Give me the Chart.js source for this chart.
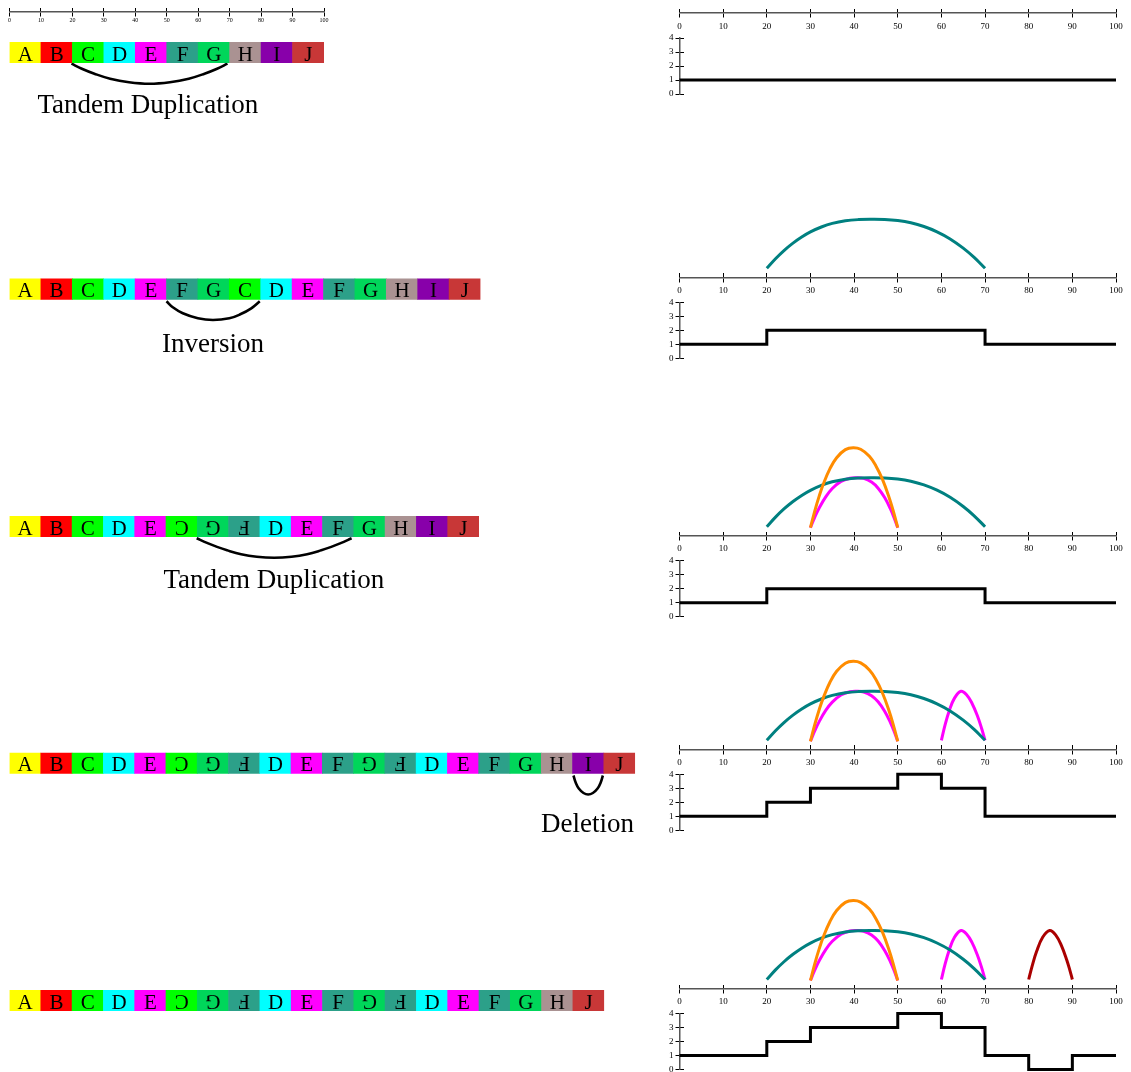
<!DOCTYPE html>
<html>
<head>
<meta charset="utf-8">
<title>Sequential rearrangements and copy number</title>
<script src="https://cdn.jsdelivr.net/npm/chart.js@4.4.1/dist/chart.umd.min.js"></script>
<style>
  html, body { margin: 0; padding: 0; background: #fff; overflow: hidden; width: 1131px; height: 1072px; }
  canvas { position: absolute; display: block; }
</style>
</head>
<body>
<script>
// ---------------------------------------------------------------
// Chromosome segment orders after each rearrangement step.
// Each block covers 10 units of the 0-100 reference coordinate.
// strand: 1 = forward, -1 = inverted
// ---------------------------------------------------------------
const segmentLength = 10;

const row1Order  = ['A','B','C','D','E','F','G','H','I','J'];
const row1Strand = [1,1,1,1,1,1,1,1,1,1];

const row2Order  = ['A','B','C','D','E','F','G','C','D','E','F','G','H','I','J'];
const row2Strand = [1,1,1,1,1,1,1,1,1,1,1,1,1,1,1];

const row3Order  = ['A','B','C','D','E','C','G','F','D','E','F','G','H','I','J'];
const row3Strand = [1,1,1,1,1,-1,-1,-1,1,1,1,1,1,1,1];

const row4Order  = ['A','B','C','D','E','C','G','F','D','E','F','G','F','D','E','F','G','H','I','J'];
const row4Strand = [1,1,1,1,1,-1,-1,-1,1,1,1,-1,-1,1,1,1,1,1,1,1];

const row5Order  = ['A','B','C','D','E','C','G','F','D','E','F','G','F','D','E','F','G','H','J'];
const row5Strand = [1,1,1,1,1,-1,-1,-1,1,1,1,-1,-1,1,1,1,1,1,1];

// Event brackets under the segment rows: [position in row units, depth below the row]
const row1Arc = [[19.7,-1],[23,-6],[27,-11],[32,-16],[38,-19.5],[44.5,-21],[51,-19.5],[57,-16],[62,-11],[66,-6],[69.3,-1]];
const row2Arc = [[50,-2],[52,-8],[55.2,-14],[60,-19],[64.8,-20.7],[70,-19],[73.5,-15],[77,-9],[79.7,-2]];
const row3Arc = [[59.8,-1.6],[63.3,-6.4],[66.3,-10.2],[69.5,-13.6],[74,-17.5],[79,-20],[84.55,-21],[90.1,-20],[95.1,-17.5],[99.6,-13.6],[102.8,-10.2],[105.8,-6.4],[109.3,-1.6]];
const row4Arc = [[180.3,-2],[181,-9],[182,-15],[183.5,-19.5],[185,-21],[186.5,-19.5],[188,-15],[189,-9],[189.7,-2]];

const eventLabels = ['Tandem Duplication', 'Inversion', 'Tandem Duplication', 'Deletion'];

// Rearrangement breakpoint arcs on the reference coordinate: [position, height]
const arcTeal = [[20,9],[22,18.6],[24,27],[26,34.2],[28,40.3],[30,45.4],[32.5,50.3],[35,53.9],[38,56.5],[41,57.7],[43.9,58],
                 [47,57.8],[50,56.7],[53,54.5],[56,50.8],[59,45.5],[62,38.4],[65,29.2],[67.5,19.9],[70,9]];
const arcOrange = [[30,8],[31,24.9],[32,39.6],[33,52.2],[34.5,67.3],[36,78],[38,86.1],[39.8,88],
                   [41.5,86.4],[43.5,79.4],[45,69.8],[46.5,56.3],[48,38.5],[49,24.2],[50,8]];
const arcMagentaA = [[30,8],[31,18.6],[32,27.7],[33.5,38.9],[35,47.2],[37,54.3],[39,57.5],[40.6,58],
                     [42.2,57.3],[44,53.6],[45.5,47.5],[47,38.1],[48.3,27],[49.2,17.6],[50,8]];
const arcMagentaB = [[60,9],[60.8,23.6],[61.8,38.5],[63,51.2],[64.5,58],[65.8,54.3],[67,46.1],[68.2,34],[69.2,21.1],[70,9]];
const arcRed = [[80,9],[80.8,22.7],[81.8,37],[83.2,51.2],[84.8,58],[86.2,53.4],[87.5,42.9],[88.7,28.8],[89.5,17.2],[90,9]];

// Which arcs are present at each step (drawn top-most first)
const panelArcs = [
  [],
  ['teal'],
  ['orange', 'teal', 'magentaA'],
  ['orange', 'teal', 'magentaA', 'magentaB'],
  ['orange', 'teal', 'magentaA', 'magentaB', 'red']
];

// Copy number profiles: breakpoints and the copy count between them
const copyBreaks = [
  [0, 100],
  [0, 20, 70, 100],
  [0, 20, 70, 100],
  [0, 20, 30, 50, 60, 70, 100],
  [0, 20, 30, 50, 60, 70, 80, 90, 100]
];
const copyNumbers = [
  [1],
  [1, 2, 1],
  [1, 2, 1],
  [1, 2, 3, 4, 3, 1],
  [1, 2, 3, 4, 3, 1, 0, 1]
];

const coordTicks = { min: 0, max: 100, step: 10 };
const copyTicks  = { min: 0, max: 4, step: 1 };

// ---------------------------------------------------------------
// Styles
// ---------------------------------------------------------------
const SERIF = "'Liberation Serif', 'Times New Roman', serif";
Chart.defaults.font.family = SERIF;
Chart.defaults.color = '#000';

const segmentColors = {
  A: '#ffff00', B: '#ff0000', C: '#00ff00', D: '#00ffff', E: '#ff00ff',
  F: '#2ca089', G: '#00d65a', H: '#aa9292', I: '#8800aa', J: '#c83737'
};
const arcStyles = {
  teal:     { data: arcTeal,     color: '#008080' },
  orange:   { data: arcOrange,   color: '#ff8c00' },
  magentaA: { data: arcMagentaA, color: '#ff00ff' },
  magentaB: { data: arcMagentaB, color: '#ff00ff' },
  red:      { data: arcRed,      color: '#aa0000' }
};

// ---------------------------------------------------------------
// Helpers
// ---------------------------------------------------------------
function mountCanvas(left, top, width, height) {
  const c = document.createElement('canvas');
  c.width = width; c.height = height;
  c.style.left = left + 'px'; c.style.top = top + 'px';
  c.style.width = width + 'px'; c.style.height = height + 'px';
  document.body.appendChild(c);
  return c;
}

const baseOptions = () => ({
  responsive: false,
  animation: false,
  devicePixelRatio: 1,
  events: [],
  plugins: { legend: { display: false }, tooltip: { enabled: false } }
});

const AXIS_LINE = { display: true, color: '#555', width: 1.5 };

// Labelled half of a ruler axis: axis line, labels and the outer half of each tick.
function rulerAxis(axis, position, range, fontSize, pad, halfTick) {
  return {
    type: 'linear', axis, min: range.min, max: range.max, position, offset: false,
    ticks: { stepSize: range.step, autoSkip: false, maxRotation: 0, font: { size: fontSize, family: SERIF }, color: '#000', padding: pad },
    grid: { offset: false, drawOnChartArea: false, drawTicks: true, tickLength: halfTick, tickColor: '#000', tickWidth: 1 },
    border: AXIS_LINE
  };
}
// Twin of a ruler axis that only draws the inner half of each tick mark.
function rulerTwin(axis, position, range, halfTick) {
  return {
    type: 'linear', axis, min: range.min, max: range.max, position, offset: false,
    ticks: { display: false, stepSize: range.step, autoSkip: false },
    grid: { offset: false, drawOnChartArea: false, drawTicks: true, tickLength: -halfTick, tickColor: '#000', tickWidth: 1 },
    border: { display: false }
  };
}

function segmentTextPlugin(names, strand, size, gap) {
  return {
    id: 'segmentText',
    afterDatasetsDraw(chart) {
      const meta = chart.getDatasetMeta(0);
      const ctx = chart.ctx;
      const cap = size * 0.662;
      ctx.save();
      ctx.font = size + 'px ' + SERIF;
      ctx.fillStyle = '#000';
      ctx.textAlign = 'center';
      ctx.textBaseline = 'alphabetic';
      meta.data.forEach((bar, i) => {
        const cx = (bar.x + bar.base) / 2;
        const baseline = bar.y + bar.height / 2 - gap;
        ctx.save();
        ctx.translate(cx, baseline - cap / 2);
        if (strand[i] < 0) ctx.rotate(Math.PI);
        ctx.fillText(names[i], 0, cap / 2);
        ctx.restore();
      });
      ctx.restore();
    }
  };
}

function eventLabelPlugin(text, at) {
  return {
    id: 'eventLabel',
    afterDraw(chart) {
      if (!text) return;
      const ctx = chart.ctx;
      const x = chart.scales.x.getPixelForValue(at[0]);
      const y = chart.scales.y.getPixelForValue(at[1]);
      ctx.save();
      ctx.font = '27px ' + SERIF;
      ctx.fillStyle = '#000';
      ctx.textAlign = 'center';
      ctx.textBaseline = 'alphabetic';
      ctx.fillText(text, x, y);
      ctx.restore();
    }
  };
}

const toPoints = arr => arr.map(([x, y]) => ({ x, y }));

// ---------------------------------------------------------------
// Left column: segment rows with event brackets
// ---------------------------------------------------------------
const rowLayout = [
  { order: row1Order, strand: row1Strand, arc: row1Arc, label: eventLabels[0], labelAt: [44, -50.3],    barBottom: 62.7,   unitPx: 3.145, ruler: true },
  { order: row2Order, strand: row2Strand, arc: row2Arc, label: eventLabels[1], labelAt: [64.8, -52.4],  barBottom: 299.3,  unitPx: 3.14 },
  { order: row3Order, strand: row3Strand, arc: row3Arc, label: eventLabels[2], labelAt: [84.45, -51.6], barBottom: 536.7,  unitPx: 3.13 },
  { order: row4Order, strand: row4Strand, arc: row4Arc, label: eventLabels[3], labelAt: [184.8, -58],   barBottom: 773.5,  unitPx: 3.128 },
  { order: row5Order, strand: row5Strand, arc: null,    label: null,           labelAt: [0, 0],         barBottom: 1010.7, unitPx: 3.13 }
];

const BAR_H = 20.4;
const LEFT_X0 = 9.5;
const LEFT_W = 660;

rowLayout.forEach(row => {
  const span = row.order.length * segmentLength;
  const top = row.ruler ? 0 : Math.round(row.barBottom - 32);
  const height = Math.round(row.barBottom + 68 - top);
  const canvas = mountCanvas(0, top, LEFT_W, height);
  const padRight = LEFT_W - LEFT_X0 - span * row.unitPx;

  const datasets = [{
    type: 'bar',
    indexAxis: 'y',
    data: row.order.map((name, i) => ({ x: [i * segmentLength, (i + 1) * segmentLength], y: BAR_H / 2 })),
    backgroundColor: row.order.map(n => segmentColors[n]),
    borderWidth: 0,
    barThickness: BAR_H,
    xAxisID: 'x', yAxisID: 'y'
  }];
  if (row.arc) {
    datasets.push({
      type: 'line',
      data: toPoints(row.arc),
      borderColor: '#000',
      borderWidth: 2.6,
      pointRadius: 0,
      fill: false,
      tension: 0.4,
      clip: false,
      xAxisID: 'x', yAxisID: 'y'
    });
  }

  const scales = {
    x: { type: 'linear', display: false, offset: false, grid: { offset: false }, min: 0, max: span },
    y: { type: 'linear', display: false, offset: false, grid: { offset: false }, min: -(top + height - row.barBottom), max: row.barBottom - top }
  };
  if (row.ruler) {
    const anchor = { y: row.barBottom - 11.7 };
    const range = { min: 0, max: span, step: segmentLength };
    scales.ruler = rulerAxis('x', anchor, range, 6, 1.2, 4);
    scales.rulerTwin = rulerTwin('x', anchor, range, 4);
  }

  const opts = baseOptions();
  opts.layout = { autoPadding: false, padding: { left: LEFT_X0, right: padRight, top: 0, bottom: 0 } };
  opts.scales = scales;

  new Chart(canvas, {
    type: 'line',
    data: { datasets },
    options: opts,
    plugins: [segmentTextPlugin(row.order, row.strand, 21, 2.2), eventLabelPlugin(row.label, row.labelAt)]
  });
});

// ---------------------------------------------------------------
// Right column: breakpoint arcs over the coordinate axis, copy number below
// ---------------------------------------------------------------
const panelAxisY = [13, 277.3, 535.7, 749.3, 988.5];
const RIGHT_LEFT = 650, RIGHT_W = 481;
const PLOT_X0 = 679.5, PLOT_X1 = 1116;
const COPY_AXIS_W = 20;

panelAxisY.forEach((axisY, k) => {
  // arcs + coordinate axis
  const top = Math.max(0, Math.round(axisY - 100));
  const bottom = Math.round(axisY + 22);
  const arcCanvas = mountCanvas(RIGHT_LEFT, top, RIGHT_W, bottom - top);
  const arcOpts = baseOptions();
  arcOpts.layout = { autoPadding: false, padding: { left: PLOT_X0 - RIGHT_LEFT, right: RIGHT_LEFT + RIGHT_W - PLOT_X1, top: 0, bottom: 0 } };
  arcOpts.scales = {
    x: rulerAxis('x', { y: 0 }, coordTicks, 9, 3.8, 4),
    xTwin: rulerTwin('x', { y: 0 }, coordTicks, 4),
    y: { type: 'linear', display: false, min: -(bottom - axisY), max: axisY - top }
  };
  new Chart(arcCanvas, {
    type: 'line',
    data: {
      datasets: panelArcs[k].map(name => ({
        data: toPoints(arcStyles[name].data),
        borderColor: arcStyles[name].color,
        borderWidth: 3,
        pointRadius: 0,
        fill: false,
        tension: 0.4,
        clip: false
      }))
    },
    options: arcOpts
  });

  // copy number step profile: value 4 sits 25px and value 0 sits 81px below the coordinate axis
  const stepTop = Math.floor(axisY + 11);
  const stepH = Math.ceil(axisY + 95 - stepTop);
  const stepCanvas = mountCanvas(RIGHT_LEFT, stepTop, RIGHT_W, stepH);
  const stepOpts = baseOptions();
  stepOpts.layout = {
    autoPadding: false,
    padding: {
      left: PLOT_X0 - RIGHT_LEFT - COPY_AXIS_W,
      right: RIGHT_LEFT + RIGHT_W - PLOT_X1,
      top: axisY + 25 - stepTop,
      bottom: stepH - (axisY + 81 - stepTop)
    }
  };
  const copyAxis = rulerAxis('y', 'left', copyTicks, 9, 2, 4);
  copyAxis.afterFit = scale => { scale.width = COPY_AXIS_W; };
  stepOpts.scales = {
    x: { type: 'linear', display: false, min: coordTicks.min, max: coordTicks.max },
    y: copyAxis,
    yTwin: rulerTwin('y', { x: 0 }, copyTicks, 4)
  };
  const breaks = copyBreaks[k], values = copyNumbers[k];
  const stepData = values.map((v, i) => ({ x: breaks[i], y: v }));
  stepData.push({ x: breaks[breaks.length - 1], y: values[values.length - 1] });
  new Chart(stepCanvas, {
    type: 'line',
    data: {
      datasets: [{
        data: stepData,
        stepped: 'before',
        borderColor: '#000',
        borderWidth: 3,
        borderJoinStyle: 'miter',
        pointRadius: 0,
        fill: false,
        clip: false
      }]
    },
    options: stepOpts
  });
});
</script>
</body>
</html>
